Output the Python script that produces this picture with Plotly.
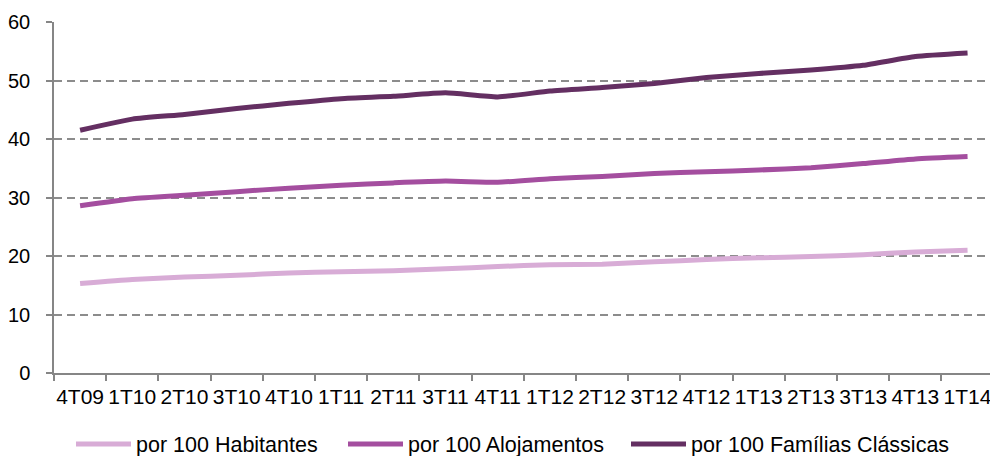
import plotly.graph_objects as go

# Quarterly series
quarters = ["4T09", "1T10", "2T10", "3T10", "4T10", "1T11", "2T11", "3T11", "4T11",
            "1T12", "2T12", "3T12", "4T12", "1T13", "2T13", "3T13", "4T13", "1T14"]

por_100_habitantes = [15.3, 16.0, 16.4, 16.7, 17.1, 17.3, 17.5, 17.8, 18.2,
                      18.5, 18.6, 19.0, 19.4, 19.7, 19.9, 20.2, 20.7, 21.0]
por_100_alojamentos = [28.6, 29.8, 30.4, 31.0, 31.6, 32.1, 32.5, 32.8, 32.6,
                       33.2, 33.6, 34.1, 34.4, 34.7, 35.1, 35.8, 36.6, 37.0]
por_100_familias = [41.5, 43.4, 44.2, 45.2, 46.1, 46.9, 47.3, 47.9, 47.2,
                    48.2, 48.8, 49.5, 50.5, 51.2, 51.8, 52.6, 54.1, 54.7]

series_names = ["por 100 Habitantes", "por 100 Alojamentos", "por 100 Famílias Clássicas"]
series_colors = ["#D8ACD6", "#A44E9F", "#642F62"]

FONT = "Arial, Liberation Sans, sans-serif"
AXIS_GRAY = "#868686"

# one legend box per series so each entry sits at its own horizontal slot
legend_ids = ["legend", "legend2", "legend3"]
legend_left_px = [71, 343, 626]

fig = go.Figure()
for name, values, color, lid in zip(series_names,
                                    [por_100_habitantes, por_100_alojamentos, por_100_familias],
                                    series_colors, legend_ids):
    fig.add_trace(go.Scatter(
        x=quarters, y=values, name=name, mode="lines", legend=lid,
        line=dict(color=color, width=5, shape="spline", smoothing=0.5),
    ))

legend_style = dict(
    orientation="h", xanchor="left", xref="container",
    y=12 / 456, yanchor="middle", yref="container",
    font=dict(family=FONT, size=21.5, color="#000000"),
    itemwidth=55, bgcolor="rgba(0,0,0,0)",
)

fig.update_layout(
    width=990, height=456,
    margin=dict(l=54, r=0, t=22, b=83, autoexpand=False),
    paper_bgcolor="white", plot_bgcolor="white",
    font=dict(family=FONT, size=20, color="#000000"),
    showlegend=True,
    **{lid: dict(legend_style, x=px / 990) for lid, px in zip(legend_ids, legend_left_px)},
)

fig.update_xaxes(
    type="category", range=[-0.5, 17.43],
    showline=True, linecolor=AXIS_GRAY, linewidth=1.5,
    ticks="outside", tickson="boundaries", ticklen=6, tickcolor=AXIS_GRAY, tickwidth=1.5,
    showgrid=False, zeroline=False,
    tickfont=dict(family=FONT, size=21, color="#000000"),
    ticklabelstandoff=4,
    tickangle=0, automargin=False,
)

fig.update_yaxes(
    range=[0, 60], dtick=10, tick0=0,
    showline=True, linecolor=AXIS_GRAY, linewidth=1.5,
    ticks="outside", ticklen=6, tickcolor=AXIS_GRAY, tickwidth=1.5,
    showgrid=True, gridcolor="#8C8C8C", gridwidth=1.5, griddash="8px,5px",
    zeroline=False, automargin=False,
    ticklabelstandoff=12,
    tickfont=dict(family=FONT, size=20, color="#000000"),
)

fig.write_html("out.html")
